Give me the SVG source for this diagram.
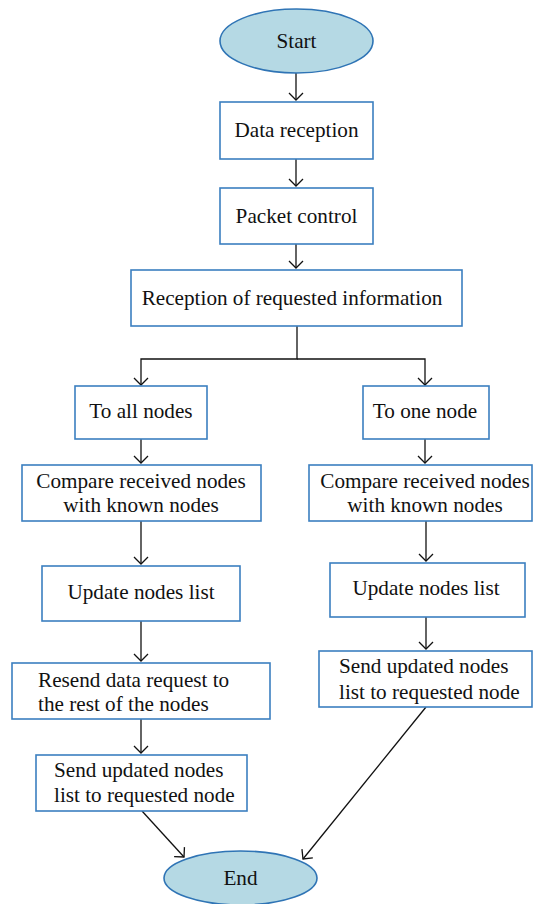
<svg xmlns="http://www.w3.org/2000/svg" width="534" height="904" viewBox="0 0 534 904">
<style>
.box{fill:#fff;stroke:#3b7fc0;stroke-width:1.6}
.ell{fill:#b5d9e4;stroke:#2f74b5;stroke-width:1.6}
.t{font-family:"Liberation Serif",serif;font-size:21.2px;fill:#111}
.c{text-anchor:middle}
.ln{fill:none;stroke:#111;stroke-width:1.3}
</style>
<defs>
<marker id="ah" markerUnits="userSpaceOnUse" markerWidth="16" markerHeight="16" refX="8" refY="8" orient="auto" viewBox="0 0 16 16">
<path d="M1,1 L8,8 L1,15" fill="none" stroke="#111" stroke-width="1.3"/>
</marker>
</defs>
<g id="connectors">
<line class="ln" x1="296" y1="73" x2="296" y2="100" marker-end="url(#ah)"/>
<line class="ln" x1="296" y1="159" x2="296" y2="186" marker-end="url(#ah)"/>
<line class="ln" x1="296" y1="244" x2="296" y2="268" marker-end="url(#ah)"/>
<polyline class="ln" points="297,326 297,359 141,359 141,385" marker-end="url(#ah)"/>
<polyline class="ln" points="297,359 425,359 425,385" marker-end="url(#ah)"/>
<line class="ln" x1="141" y1="439" x2="141" y2="463" marker-end="url(#ah)"/>
<line class="ln" x1="425" y1="439" x2="425" y2="463" marker-end="url(#ah)"/>
<line class="ln" x1="141" y1="521" x2="141" y2="564" marker-end="url(#ah)"/>
<line class="ln" x1="426" y1="521" x2="426" y2="561" marker-end="url(#ah)"/>
<line class="ln" x1="141" y1="621" x2="141" y2="661" marker-end="url(#ah)"/>
<line class="ln" x1="426" y1="617" x2="426" y2="649" marker-end="url(#ah)"/>
<line class="ln" x1="141" y1="719" x2="141" y2="753" marker-end="url(#ah)"/>
<line class="ln" x1="142" y1="811" x2="184" y2="857" marker-end="url(#ah)"/>
<line class="ln" x1="426" y1="707" x2="303" y2="859" marker-end="url(#ah)"/>
</g>
<g id="start">
<ellipse class="ell" cx="296.5" cy="41" rx="76.5" ry="32"/>
<text class="t c" x="296.5" y="48">Start</text>
</g>
<g id="data-reception">
<rect class="box" x="220" y="102" width="153" height="57"/>
<text class="t c" x="296.5" y="137">Data reception</text>
</g>
<g id="packet-control">
<rect class="box" x="220" y="188" width="153" height="56"/>
<text class="t c" x="296.5" y="223">Packet control</text>
</g>
<g id="reception-info">
<rect class="box" x="131" y="270" width="331" height="56"/>
<text class="t c" x="292" y="305">Reception of requested information</text>
</g>
<g id="to-all">
<rect class="box" x="75" y="386" width="132" height="53"/>
<text class="t c" x="141" y="418">To all nodes</text>
</g>
<g id="to-one">
<rect class="box" x="363" y="386" width="126" height="53"/>
<text class="t c" x="425" y="418">To one node</text>
</g>
<g id="compare-left">
<rect class="box" x="22" y="465" width="239" height="56"/>
<text class="t c" x="141" y="488">Compare received nodes</text>
<text class="t c" x="141" y="512">with known nodes</text>
</g>
<g id="compare-right">
<rect class="box" x="309" y="465" width="223" height="56"/>
<text class="t c" x="425" y="488">Compare received nodes</text>
<text class="t c" x="425" y="512">with known nodes</text>
</g>
<g id="update-left">
<rect class="box" x="42" y="566" width="198" height="55"/>
<text class="t c" x="141" y="599">Update nodes list</text>
</g>
<g id="update-right">
<rect class="box" x="330" y="563" width="195" height="54"/>
<text class="t c" x="426" y="595">Update nodes list</text>
</g>
<g id="resend">
<rect class="box" x="12" y="663" width="258" height="56"/>
<text class="t" x="38" y="687">Resend data request to</text>
<text class="t" x="38" y="711">the rest of the nodes</text>
</g>
<g id="send-left">
<rect class="box" x="36" y="755" width="211" height="56"/>
<text class="t" x="54" y="777">Send updated nodes</text>
<text class="t" x="54" y="802">list to requested node</text>
</g>
<g id="send-right">
<rect class="box" x="319" y="651" width="213" height="56"/>
<text class="t" x="339" y="673">Send updated nodes</text>
<text class="t" x="339" y="699">list to requested node</text>
</g>
<g id="end">
<ellipse class="ell" cx="240.5" cy="878" rx="76.5" ry="27"/>
<text class="t c" x="240.5" y="885">End</text>
</g>
</svg>
